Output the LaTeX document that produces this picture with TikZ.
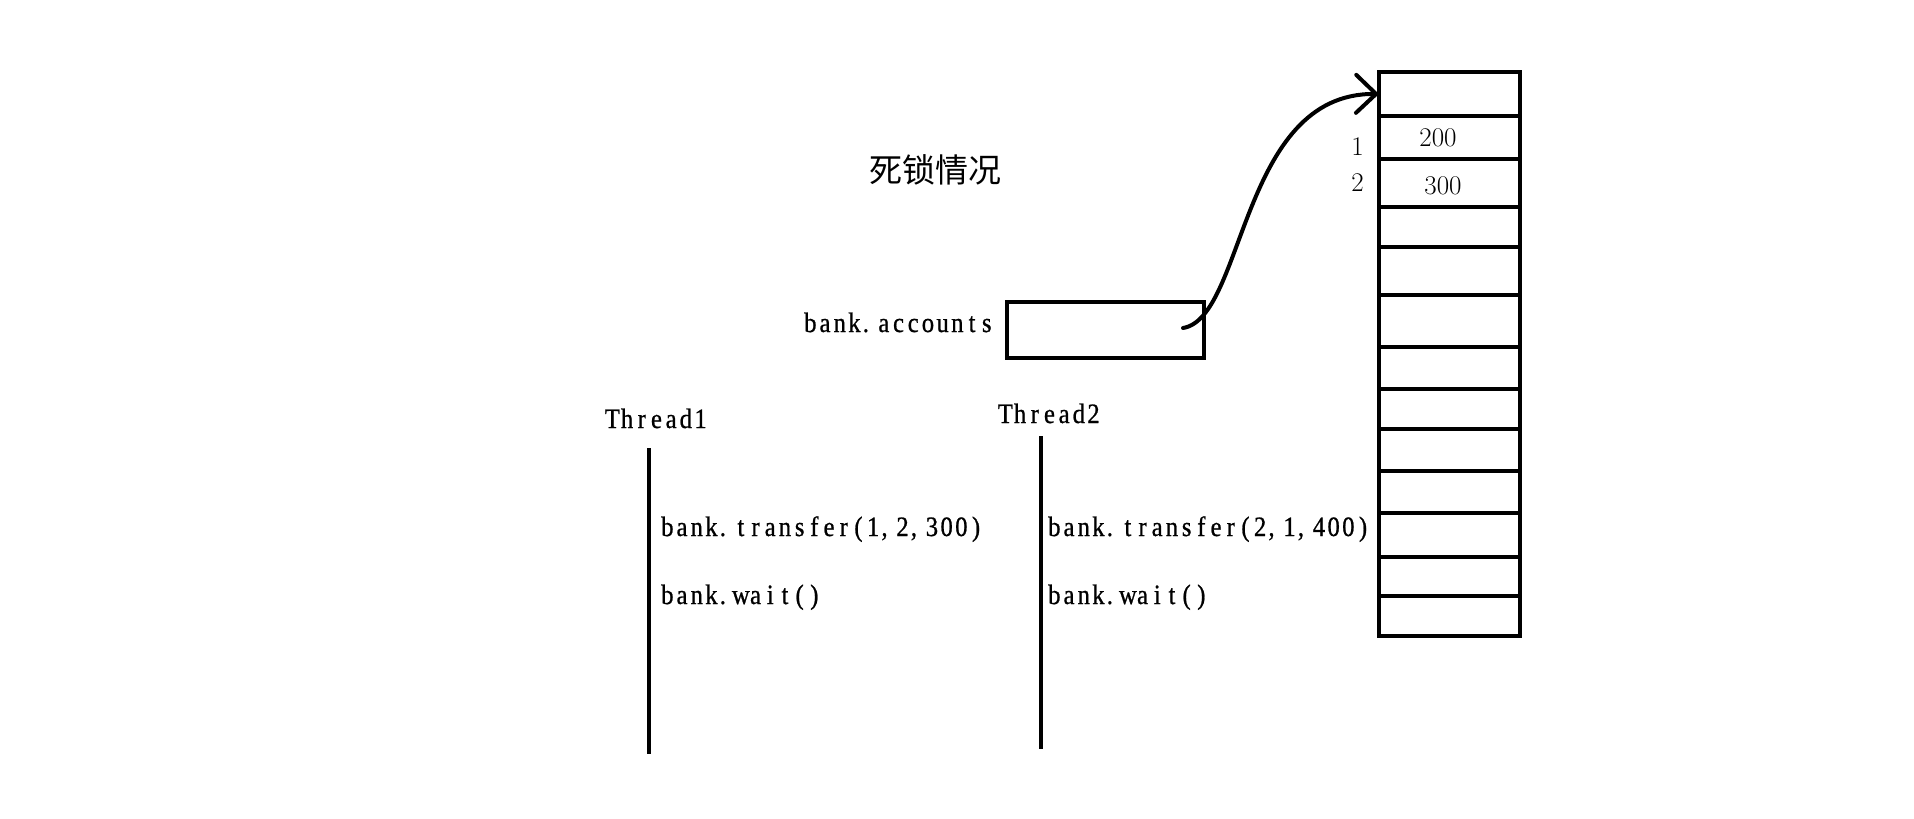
\documentclass[tikz,border=0pt]{standalone}
\usepackage{fontspec}
\usetikzlibrary{arrows.meta}
\newfontfamily\cjk{Noto Sans CJK SC}
\newfontfamily\simfont[FakeStretch=0.88,FakeBold=0.8]{Liberation Serif}
\newcommand\mcell[1]{\ifx.#1\makebox[14.7pt][l]{\hspace{1pt}#1}\else\ifx,#1\makebox[14.7pt][l]{\hspace{1pt}#1}\else\makebox[14.7pt][c]{#1}\fi\fi}
\def\monoloop#1{\ifx#1\relax\else\mcell{#1}\expandafter\monoloop\fi}
\newcommand\mono[1]{{\simfont\fontsize{28}{32}\selectfont\monoloop#1\relax}}
\tikzset{
  code/.style={anchor=base west, inner sep=0pt, outer sep=0pt},
  digit/.style={anchor=base, inner sep=0pt, font=\fontsize{27}{30}\selectfont\addfontfeatures{FakeBold=1.2}},
  cell/.style={draw, line width=4pt, minimum width=141pt, anchor=north west, inner sep=0pt, outer sep=0pt},
  ptrbox/.style={draw, line width=4.5pt, minimum width=197pt, minimum height=56pt, anchor=north west, inner sep=0pt, outer sep=0pt},
  life/.style={line width=4.5pt},
  link/.style={line width=4pt, line cap=round, -{Straight Barb[length=20pt,width=38pt,line cap=round]}}
}
\begin{document}
\begin{tikzpicture}[x=1pt,y=-1pt]
\useasboundingbox (0,0) rectangle (1914,819);
\fill[white] (0,0) rectangle (1914,819);
% title
\node[inner sep=0pt, font=\cjk\fontsize{33}{36}\selectfont] (title) at (935,170) {死锁情况};
% array of accounts
\foreach \t/\b [count=\i] in {72/116,116/159,159/207,207/247,247/295,295/347,347/389,389/429,429/471,471/513,513/557,557/596,596/636}{
  \pgfmathsetmacro\h{\b-\t}
  \node[cell, minimum height=\h pt] (r\i) at (1379,\t) {};
}
\node[digit] (v200) at (1438,146) {200};
\node[digit] (v300) at (1443,194) {300};
\node[digit] (i1) at (1357.5,155) {1};
\node[digit] (i2) at (1357.5,191.5) {2};
% bank.accounts
\node[ptrbox] (acc) at (1007,302) {};
\node[code] (acclabel) at (803,332) {\mono{bank.accounts}};
\coordinate (ptr) at (1183,328);
\draw[link] (ptr) .. controls (1245,318) and (1240,93) .. (r1.west);
% threads
\node[code] (th1) at (605,428) {\mono{Thread1}};
\coordinate (t1top) at (649,448);
\coordinate (t1bot) at (649,754);
\draw[life] (t1top) -- (t1bot);
\node[code] (tr1) at (660,536) {\mono{bank.transfer(1,2,300)}};
\node[code] (w1) at (660,604) {\mono{bank.wait()}};
\node[code] (th2) at (998,423) {\mono{Thread2}};
\coordinate (t2top) at (1041,436);
\coordinate (t2bot) at (1041,749);
\draw[life] (t2top) -- (t2bot);
\node[code] (tr2) at (1047,536) {\mono{bank.transfer(2,1,400)}};
\node[code] (w2) at (1047,604) {\mono{bank.wait()}};
\end{tikzpicture}
\end{document}
